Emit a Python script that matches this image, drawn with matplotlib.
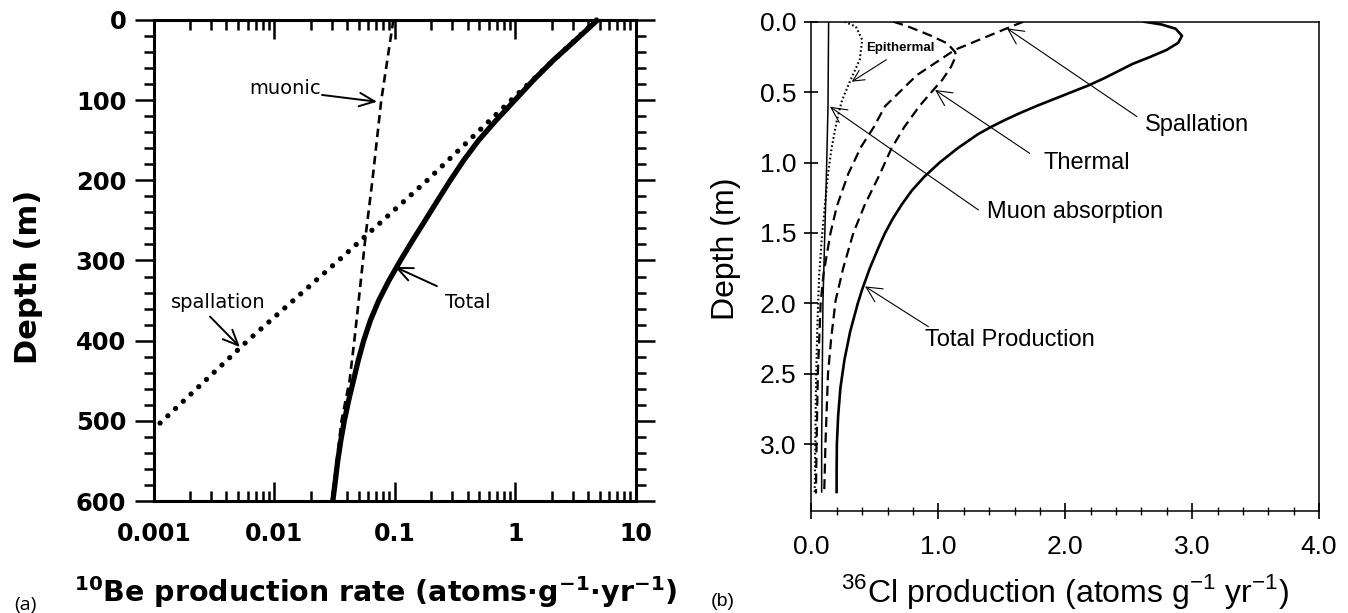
import numpy as np
import matplotlib
matplotlib.use("Agg")
import matplotlib.pyplot as plt
from matplotlib.ticker import MultipleLocator, NullFormatter

plt.rcParams["mathtext.fontset"] = "custom"
plt.rcParams["mathtext.rm"] = "Liberation Sans"
plt.rcParams["mathtext.bf"] = "DejaVu Sans:bold"

# ---- (a) 10Be production vs depth (log x) ----
SPALL_DEPTH = [0, 100, 200, 300, 400, 510]
SPALL_RATE = [4.7, 0.92, 0.185, 0.034, 0.0060, 0.001]

MUON_DEPTH = [0, 100, 200, 270, 350, 400, 450, 500, 600]
MUON_RATE = [0.097, 0.077, 0.065, 0.057, 0.050, 0.046, 0.042, 0.036, 0.030]

TOTAL_DEPTH = [0, 25, 50, 75, 100, 125, 150, 175, 200, 225, 250, 275, 300,
               325, 350, 375, 400, 425, 450, 475, 500, 525, 550, 575, 600]
TOTAL_RATE = [4.80, 3.16, 2.07, 1.41, 0.989, 0.692, 0.495, 0.372, 0.288, 0.226,
              0.178, 0.140, 0.111, 0.0891, 0.0733, 0.0624, 0.0550, 0.0495, 0.0452,
              0.0412, 0.0380, 0.0355, 0.0335, 0.0320, 0.0305]

LOG_TICKS = [0.001, 0.01, 0.1, 1, 10]
LOG_LABELS = ["0.001", "0.01", "0.1", "1", "10"]
DEPTH_TICKS = [0, 100, 200, 300, 400, 500, 600]

# ---- (b) 36Cl production vs depth ----
TOT_D = [0.0, 0.02, 0.05, 0.1, 0.15, 0.2, 0.25, 0.3, 0.35, 0.4, 0.45, 0.5, 0.55, 0.6,
         0.65, 0.7, 0.75, 0.8, 0.9, 1.0, 1.1, 1.2, 1.3, 1.4, 1.5, 1.6, 1.75, 1.9,
         2.0, 2.2, 2.4, 2.6, 2.8, 3.0, 3.2, 3.34]
TOT_X = [2.62, 2.76, 2.87, 2.92, 2.89, 2.80, 2.67, 2.53, 2.42, 2.31, 2.19, 2.05, 1.91, 1.77,
         1.64, 1.52, 1.41, 1.31, 1.15, 1.01, 0.89, 0.79, 0.71, 0.64, 0.58, 0.53, 0.46, 0.40,
         0.365, 0.305, 0.26, 0.228, 0.21, 0.20, 0.198, 0.198]

SPL_D = [0.0, 0.047, 0.2, 0.38, 0.6, 0.75, 0.89, 1.08, 1.31, 1.5, 1.79, 2.0, 2.5, 3.0, 3.35]
SPL_X = [1.67, 1.54, 1.13, 0.83, 0.58, 0.49, 0.39, 0.29, 0.20, 0.15, 0.095, 0.072, 0.05, 0.04, 0.035]

THM_D = [0.0, 0.03, 0.095, 0.154, 0.213, 0.24, 0.32, 0.414, 0.485, 0.6, 0.75, 0.9, 1.08,
         1.3, 1.5, 1.75, 1.98, 2.25, 2.5, 2.75, 3.0, 3.35]
THM_X = [0.645, 0.75, 0.93, 1.07, 1.13, 1.14, 1.10, 1.03, 0.96, 0.85, 0.73, 0.63, 0.54,
         0.42, 0.33, 0.25, 0.19, 0.155, 0.13, 0.12, 0.11, 0.10]

EPI_D = [0.0, 0.035, 0.13, 0.27, 0.43, 0.56, 0.7, 0.89, 1.08, 1.31, 1.55, 1.81, 2.2, 2.6, 3.0, 3.35]
EPI_X = [0.26, 0.35, 0.40, 0.38, 0.30, 0.24, 0.20, 0.16, 0.13, 0.105, 0.08, 0.06, 0.045, 0.035, 0.03, 0.025]

MUA_D = [0.0, 0.6, 1.0, 1.5, 2.0, 2.5, 3.0, 3.34]
MUA_X = [0.135, 0.13, 0.12, 0.105, 0.09, 0.085, 0.08, 0.08]

LIN_TICKS = [0, 1, 2, 3, 4]
LIN_LABELS = ["0.0", "1.0", "2.0", "3.0", "4.0"]
CL_DEPTH_TICKS = [0.0, 0.5, 1.0, 1.5, 2.0, 2.5, 3.0]

BOLD = dict(family="DejaVu Sans", fontweight="bold")
ARIAL = dict(family="Liberation Sans")

fig = plt.figure(figsize=(13.48, 6.13), dpi=100)

# ================= panel (a) =================
ax1 = fig.add_axes([0.1142, 0.1827, 0.3576, 0.7847])
ax1.set_xscale("log")
ax1.plot(SPALL_RATE, SPALL_DEPTH, color="black", lw=3.8,
         linestyle=(0, (0.01, 2.0)), dash_capstyle="round", clip_on=False)
ax1.plot(MUON_RATE, MUON_DEPTH, color="black", lw=1.9, linestyle=(0, (3.2, 2.0)))
ax1.plot(TOTAL_RATE, TOTAL_DEPTH, color="black", lw=3.8, solid_joinstyle="round")

ax1.set_xlim(0.001, 10)
ax1.set_ylim(600, 0)
ax1.set_xticks(LOG_TICKS, labels=LOG_LABELS, fontsize=17, **BOLD)
ax1.xaxis.set_minor_formatter(NullFormatter())
ax1.set_yticks(DEPTH_TICKS, labels=[str(v) for v in DEPTH_TICKS], fontsize=17.5, **BOLD)
ax1.yaxis.set_minor_locator(MultipleLocator(20))

ax1.tick_params(axis="x", which="both", direction="in", top=True, bottom=True,
                width=1.8, pad=15)
ax1.tick_params(axis="x", which="major", length=14)
ax1.tick_params(axis="x", which="minor", length=7)
ax1.tick_params(axis="y", which="both", direction="out", left=True, right=True,
                width=1.8, pad=6)
ax1.tick_params(axis="y", which="major", length=14)
ax1.tick_params(axis="y", which="minor", length=7)
for s in ax1.spines.values():
    s.set_linewidth(2.2)

ax1.set_ylabel("Depth (m)", fontsize=22, va="center", **BOLD)
ax1.yaxis.set_label_coords(-0.261, 0.465)
ax1.set_xlabel(r"$^{\mathbf{10}}$Be production rate (atoms·g$^{\mathbf{-1}}$·yr$^{\mathbf{-1}}$)",
               fontsize=20.5, va="baseline", **BOLD)
ax1.xaxis.set_label_coords(0.46, -0.21)

arrow_a = dict(arrowstyle="->,head_length=0.5,head_width=0.22", color="black",
               lw=1.4, mutation_scale=22, shrinkA=0, shrinkB=0)
ax1.text(0.0122, 86, "muonic", fontsize=14, ha="center", va="center", family="DejaVu Sans")
ax1.annotate("", xy=(0.071, 102), xytext=(0.0248, 93.5), arrowprops=arrow_a)
ax1.text(0.40, 352, "Total", fontsize=14, ha="center", va="center", family="DejaVu Sans")
ax1.annotate("", xy=(0.1, 308), xytext=(0.223, 332), arrowprops=arrow_a)
ax1.text(0.0034, 353, "spallation", fontsize=14, ha="center", va="center", family="DejaVu Sans")
ax1.annotate("", xy=(0.00517, 408), xytext=(0.00292, 370), arrowprops=arrow_a)

fig.text(25 / 1348, 1 - 605 / 613, "(a)", fontsize=14, ha="center", va="center",
         family="Open Sans")

# ================= panel (b) =================
ax2 = fig.add_axes([0.602, 0.1664, 0.3765, 0.7982])
ax2.plot(TOT_X, TOT_D, color="black", lw=1.9)
ax2.plot(SPL_X, SPL_D, color="black", lw=1.6, linestyle=(0, (4.5, 2.5)))
ax2.plot(THM_X, THM_D, color="black", lw=1.6, linestyle=(0, (4.5, 2.5)))
ax2.plot(EPI_X, EPI_D, color="black", lw=1.5, linestyle=(0, (0.8, 1.2)))
ax2.plot(MUA_X, MUA_D, color="black", lw=1.1)

ax2.set_xlim(0, 4)
ax2.set_ylim(3.475, 0)
ax2.set_xticks(LIN_TICKS, labels=LIN_LABELS, fontsize=19, **ARIAL)
ax2.xaxis.set_minor_locator(MultipleLocator(0.2))
ax2.set_yticks(CL_DEPTH_TICKS, labels=[f"{v:.1f}" for v in CL_DEPTH_TICKS], fontsize=19, **ARIAL)
ax2.tick_params(axis="x", which="major", direction="inout", length=12, width=1.2, pad=11.5)
ax2.tick_params(axis="x", which="minor", direction="inout", length=6, width=1.0)
ax2.tick_params(axis="y", which="major", direction="inout", length=10, width=1.2, pad=6)
for s in ax2.spines.values():
    s.set_linewidth(1.1)

ax2.set_ylabel("Depth (m)", fontsize=23, va="center", **ARIAL)
ax2.yaxis.set_label_coords(-0.168, 0.535)
ax2.set_xlabel(r"$^{\mathrm{36}}$Cl production (atoms g$^{\mathrm{-1}}$ yr$^{\mathrm{-1}}$)",
               fontsize=23, va="baseline", **ARIAL)
ax2.xaxis.set_label_coords(0.5, -0.186)

arrow_b = dict(arrowstyle="->,head_length=0.5,head_width=0.25", color="black",
               lw=0.8, mutation_scale=22, shrinkA=0, shrinkB=0)
ax2.text(3.04, 0.733, "Spallation", fontsize=17, ha="center", va="center", **ARIAL)
ax2.annotate("", xy=(1.54, 0.047), xytext=(2.565, 0.674), arrowprops=arrow_b)
ax2.text(2.17, 1.006, "Thermal", fontsize=17, ha="center", va="center", **ARIAL)
ax2.annotate("", xy=(0.974, 0.485), xytext=(1.72, 0.935), arrowprops=arrow_b)
ax2.text(2.08, 1.35, "Muon absorption", fontsize=17, ha="center", va="center", **ARIAL)
ax2.annotate("", xy=(0.146, 0.604), xytext=(1.316, 1.337), arrowprops=arrow_b)
ax2.text(1.565, 2.26, "Total Production", fontsize=17, ha="center", va="center", **ARIAL)
ax2.annotate("", xy=(0.422, 1.88), xytext=(0.921, 2.166), arrowprops=arrow_b)
ax2.text(0.698, 0.19, "Epithermal", fontsize=9.5, fontweight="bold", ha="center",
         va="center", **ARIAL)
ax2.annotate("", xy=(0.317, 0.426), xytext=(0.59, 0.27),
             arrowprops=dict(arrow_b, mutation_scale=16))

fig.text(723 / 1348, 1 - 602 / 613, "(b)", fontsize=14, ha="center", va="center", **ARIAL)

fig.savefig("out.png", dpi=100)
